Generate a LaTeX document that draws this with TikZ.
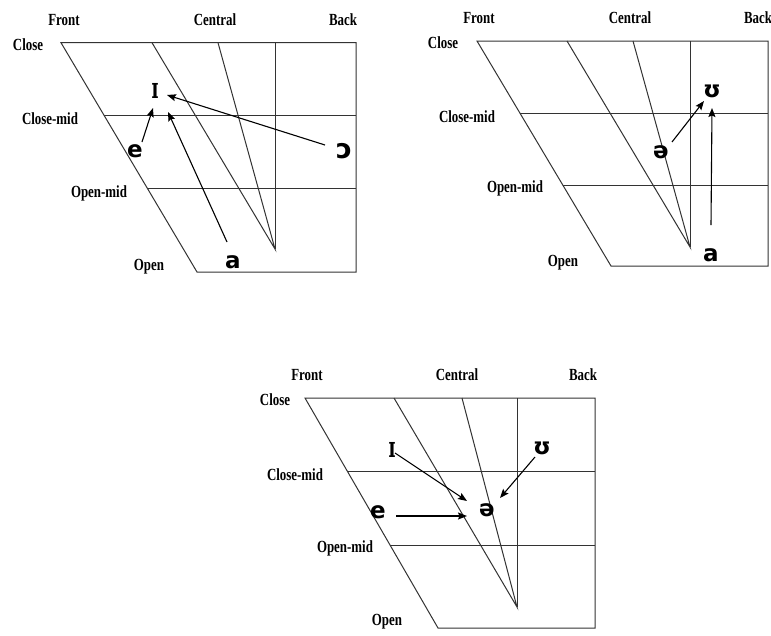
\documentclass[tikz,border=0pt]{standalone}
\usepackage{fontspec}
\usetikzlibrary{calc,arrows.meta}
\newfontfamily\labfont{Liberation Serif}[FakeStretch=0.76]
\newfontfamily\ipafont{DejaVu Sans}
\newfontfamily\ipaIfont{DejaVu Serif}[FakeStretch=0.62]
\begin{document}
\begin{tikzpicture}[x=1pt,y=-1pt,
  grid/.style={draw=black!80,line width=1pt,line join=miter},
  lab/.style={font=\labfont\bfseries\fontsize{17}{17}\selectfont,inner sep=0pt},
  vow/.style={font=\ipafont\bfseries\fontsize{23}{23}\selectfont,inner sep=0pt},
  vowO/.style={font=\ipafont\bfseries\fontsize{27}{27}\selectfont,inner sep=0pt},
  vowI/.style={font=\ipaIfont\bfseries\fontsize{29}{29}\selectfont,inner sep=0pt},
  arr/.style={draw=black,line width=1.1pt,-{Stealth[length=9pt,width=7pt,inset=1.5pt]}}]
\fill[white] (0,0) rectangle (771,635);
\useasboundingbox (0,0) rectangle (771,635);
\clip (0,0) rectangle (771,635);

% ---------- chart 1 ----------
\draw[grid] (61,42.7) -- (356,42.7) -- (356,272) -- (197,272) -- cycle;
\draw[grid] (103.9,115) -- (356,115);
\draw[grid] (147.2,188) -- (356,188);
\draw[grid] (275,42.7) -- (275,249);
\draw[grid] (152,42.7) -- (275,249) -- (218,42.7);
\node[lab] (f1) at (64,20) {Front};
\node[lab] (c1) at (215,20) {Central};
\node[lab] (b1) at (343,20) {Back};
\node[lab] (cl1) at (28,45) {Close};
\node[lab] (cm1) at (50,119) {Close-mid};
\node[lab] (om1) at (99,193) {Open-mid};
\node[lab] (op1) at (149,267) {Open};
\node[vowI] (I1) at (155,91) {ɪ};
\node[vow] (e1) at (135,151) {e};
\node[vowO] (o1) at (344,151) {ɔ};
\node[vow] (a1) at (233,262) {a};
\draw[arr] ($(e1.center)+(7,-9)$) -- ($(I1.center)+(-2,17)$);
\draw[arr] ($(a1.center)+(-6,-20)$) -- ($(I1.center)+(13,21)$);
\draw[arr] ($(o1.center)+(-19,-6)$) -- ($(I1.center)+(12,4)$);

% ---------- chart 2 ----------
\draw[grid] (477,41) -- (768,41) -- (768,266) -- (611,266) -- cycle;
\draw[grid] (519.9,113) -- (768,113);
\draw[grid] (562.8,185) -- (768,185);
\draw[grid] (690,41) -- (690,247);
\draw[grid] (567,41) -- (690,247) -- (633,41);
\node[lab] (f2) at (479,18) {Front};
\node[lab] (c2) at (630,18) {Central};
\node[lab] (b2) at (758,18) {Back};
\node[lab] (cl2) at (443,43) {Close};
\node[lab] (cm2) at (467,117) {Close-mid};
\node[lab] (om2) at (515,188) {Open-mid};
\node[lab] (op2) at (563,263) {Open};
\node[vow] (U2) at (712,91) {ʊ};
\node[vow] (s2) at (661,152) {ə};
\node[vow] (a2) at (711,255) {a};
\draw[arr] ($(s2.center)+(11,-10)$) -- ($(U2.center)+(-8,10)$);
\draw[arr] ($(a2.center)+(0,-30)$) -- ($(U2.center)+(0,17)$);

% ---------- chart 3 ----------
\draw[grid] (305,398) -- (595,398) -- (595,628) -- (438,628) -- cycle;
\draw[grid] (347.2,471) -- (595,471);
\draw[grid] (390,545) -- (595,545);
\draw[grid] (517,398) -- (517,607);
\draw[grid] (394,398) -- (517,607) -- (462,398);
\node[lab] (f3) at (307,375) {Front};
\node[lab] (c3) at (457,375) {Central};
\node[lab] (b3) at (583,375) {Back};
\node[lab] (cl3) at (275,400) {Close};
\node[lab] (cm3) at (295,475) {Close-mid};
\node[lab] (om3) at (345,548) {Open-mid};
\node[lab] (op3) at (387,622) {Open};
\node[vowI] (I3) at (392,450) {ɪ};
\node[vow] (U3) at (542,448) {ʊ};
\node[vow] (e3) at (378,512) {e};
\node[vow] (s3) at (487,510) {ə};
\draw[arr] ($(I3.center)+(3,3)$) -- ($(s3.center)+(-20,-9)$);
\draw[arr] ($(U3.center)+(-7,9)$) -- ($(s3.center)+(13,-12)$);
\draw[arr] ($(e3.center)+(18,4)$) -- ($(s3.center)+(-20,6)$);
\end{tikzpicture}
\end{document}
